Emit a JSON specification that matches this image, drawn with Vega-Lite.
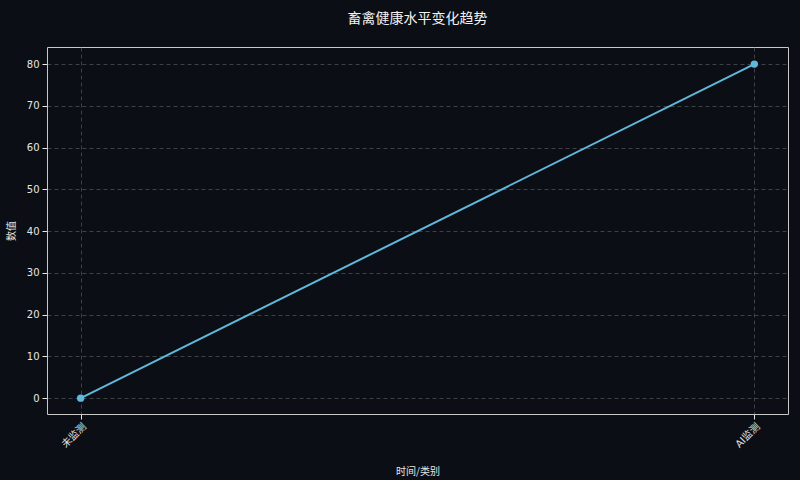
{
  "$schema": "https://vega.github.io/schema/vega-lite/v6.json",
  "autosize": "none",
  "width": 741,
  "height": 367,
  "padding": {"left": 47, "top": 47, "right": 12, "bottom": 66},
  "background": "#0b0e14",
  "title": {
    "text": "畜禽健康水平变化趋势",
    "fontSize": 14,
    "fontWeight": "normal",
    "color": "#f2f2f2",
    "font": "Noto Sans CJK SC",
    "offset": 21
  },
  "data": {
    "values": [
      {"category": "未监测", "value": 0},
      {"category": "AI监测", "value": 80}
    ]
  },
  "encoding": {
    "x": {
      "field": "category",
      "type": "ordinal",
      "sort": null,
      "title": "时间/类别",
      "scale": {"type": "point", "padding": 0.05},
      "axis": {
        "labelAngle": -45,
        "labelAlign": "right",
        "labelBaseline": "top",
        "labelPadding": 2,
        "titlePadding": 17
      }
    },
    "y": {
      "field": "value",
      "type": "quantitative",
      "title": "数值",
      "scale": {"domain": [-3.8, 84.1], "nice": false, "zero": false},
      "axis": {"values": [0, 10, 20, 30, 40, 50, 60, 70, 80], "titlePadding": 10}
    }
  },
  "layer": [
    {"mark": {"type": "line", "color": "#60b8da", "strokeWidth": 2}},
    {"mark": {"type": "point", "filled": true, "opacity": 1, "color": "#60b8da", "size": 55}}
  ],
  "config": {
    "font": "DejaVu Sans",
    "view": {"stroke": "#c8c8c8", "strokeWidth": 1},
    "axis": {
      "domain": false,
      "labelColor": "#e6e6e6",
      "labelFontSize": 10,
      "labelFont": "DejaVu Sans, Noto Sans CJK SC",
      "titleColor": "#e6e6e6",
      "titleFontSize": 10,
      "titleFont": "Noto Sans CJK SC",
      "titleFontWeight": "normal",
      "tickColor": "#e6e6e6",
      "tickSize": 5,
      "labelPadding": 3,
      "grid": true,
      "gridColor": "#5a5f66",
      "gridDash": [4, 3],
      "gridWidth": 0.8,
      "gridOpacity": 0.8
    }
  }
}
